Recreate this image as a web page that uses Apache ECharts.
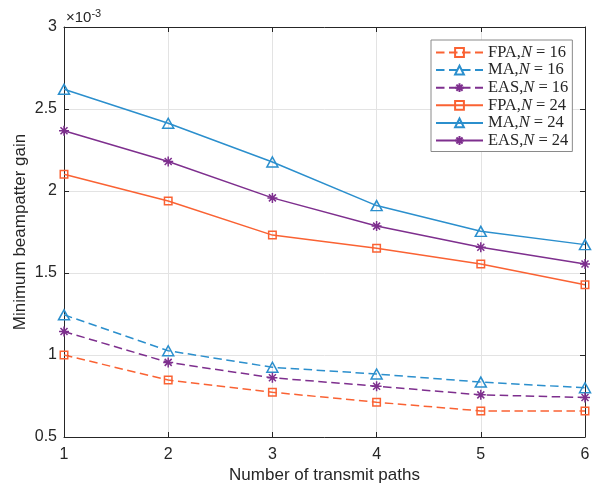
<!DOCTYPE html>
<html>
<head>
<meta charset="utf-8">
<script src="https://cdn.jsdelivr.net/npm/echarts@6/dist/echarts.min.js"></script>
<style>html,body{margin:0;padding:0;background:#fff;}#c{width:592px;height:487px;}</style>
</head>
<body>
<div id="c"></div>
<script>
const paths = [1, 2, 3, 4, 5, 6];
const yTicks = [0.5, 1, 1.5, 2, 2.5, 3];
// values in units of 1e-3
const fpa16 = [1.00, 0.847, 0.773, 0.712, 0.659, 0.659];
const ma16  = [1.245, 1.026, 0.925, 0.884, 0.835, 0.800];
const eas16 = [1.143, 0.955, 0.861, 0.810, 0.757, 0.741];
const fpa24 = [2.102, 1.939, 1.731, 1.651, 1.555, 1.429];
const ma24  = [2.620, 2.413, 2.177, 1.911, 1.754, 1.673];
const eas24 = [2.367, 2.180, 1.958, 1.786, 1.657, 1.555];

const ORANGE = '#FA6233', BLUE = '#2B8FCD', PURPLE = '#7E2F8E';
const AST = 'path://M0,-10L0,10M-10,0L10,0M-7,-7L7,7M-7,7L7,-7';
const DASH = [8.5, 4.5];

function mk(name, vals, color, dashed, kind) {
  let symbol = 'rect', size = 7.5;
  if (kind === 'tri') { symbol = 'triangle'; size = [11, 10]; }
  if (kind === 'ast') { symbol = AST; size = 10; }
  return {
    name: name, type: 'line',
    data: paths.map((p, i) => [p, vals[i]]),
    symbol: symbol, symbolSize: size, showSymbol: true,
    lineStyle: { color: color, width: 1.5, type: dashed ? DASH : 'solid' },
    itemStyle: { color: kind === 'ast' ? color : 'rgba(255,255,255,0)', borderColor: color, borderWidth: 1.5 },
    emphasis: { disabled: true },
    animation: false, z: 3
  };
}

const names = ['FPA16', 'MA16', 'EAS16', 'FPA24', 'MA24', 'EAS24'];
const labels = {
  FPA16: ['FPA', '16'], MA16: ['MA', '16'], EAS16: ['EAS', '16'],
  FPA24: ['FPA', '24'], MA24: ['MA', '24'], EAS24: ['EAS', '24']
};

const chart = echarts.init(document.getElementById('c'), null, { renderer: 'canvas' });
const axisCol = '#262626';
const tickFont = 16, nameFont = 17;
chart.setOption({
  animation: false,
  backgroundColor: '#fff',
  grid: { left: 64, right: 7, top: 27, bottom: 50, containLabel: false, outerBoundsMode: 'none' },
  xAxis: [{
    type: 'value', min: 1, max: 6, interval: 1,
    name: 'Number of transmit paths', nameLocation: 'middle', nameGap: 30, nameMoveOverlap: false,
    nameTextStyle: { fontFamily: 'Liberation Sans', fontSize: nameFont, color: axisCol },
    axisLine: { show: true, lineStyle: { color: axisCol, width: 1 } },
    axisTick: { show: true, inside: true, length: 5, lineStyle: { color: axisCol } },
    axisLabel: { fontFamily: 'Liberation Sans', fontSize: tickFont, color: axisCol, margin: 10 },
    splitLine: { show: true, lineStyle: { color: '#e3e3e3', width: 1 } }
  }, {
    type: 'value', min: 1, max: 6, interval: 1, position: 'top',
    axisLine: { show: true, onZero: false, lineStyle: { color: axisCol, width: 1 } },
    axisTick: { show: true, inside: true, length: 5, lineStyle: { color: axisCol } },
    axisLabel: { show: false }, splitLine: { show: false }
  }],
  yAxis: [{
    type: 'value', min: 0.5, max: 3, interval: 0.5,
    name: 'Minimum beampatter gain', nameLocation: 'middle', nameGap: 35, nameMoveOverlap: false,
    nameTextStyle: { fontFamily: 'Liberation Sans', fontSize: nameFont, color: axisCol },
    axisLine: { show: true, lineStyle: { color: axisCol, width: 1 } },
    axisTick: { show: true, inside: true, length: 5, lineStyle: { color: axisCol } },
    axisLabel: { fontFamily: 'Liberation Sans', fontSize: tickFont, color: axisCol, margin: 7,
      formatter: v => String(Math.round(v * 10) / 10) },
    splitLine: { show: true, lineStyle: { color: '#e3e3e3', width: 1 } }
  }, {
    type: 'value', min: 0.5, max: 3, interval: 0.5, position: 'right',
    axisLine: { show: true, onZero: false, lineStyle: { color: axisCol, width: 1 } },
    axisTick: { show: true, inside: true, length: 5, lineStyle: { color: axisCol } },
    axisLabel: { show: false }, splitLine: { show: false }
  }],
  legend: {
    orient: 'vertical', left: 431, top: 40,
    padding: [4, 4, 2.5, 4], itemGap: 0.6, itemWidth: 47, itemHeight: 11,
    backgroundColor: '#fff', borderColor: '#8a8a8a', borderWidth: 1, borderRadius: 0,
    data: names,
    formatter: n => '{a|' + labels[n][0] + ',}{i|N}{a| = ' + labels[n][1] + '}',
    textStyle: {
      color: axisCol, fontSize: 16.5, fontFamily: 'Liberation Serif',
      rich: {
        a: { fontFamily: 'Liberation Serif', fontSize: 16.5, color: axisCol },
        i: { fontFamily: 'Liberation Serif', fontStyle: 'italic', fontSize: 16.5, color: axisCol }
      }
    }
  },
  graphic: [{
    type: 'text', left: 66, top: 8,
    style: {
      text: '{a|×10}{s|-3}',
      rich: {
        a: { fontFamily: 'Liberation Sans', fontSize: 15, fill: axisCol },
        s: { fontFamily: 'Liberation Sans', fontSize: 11, fill: axisCol, verticalAlign: 'top', padding: [0, 0, 8, 0] }
      }
    }
  }],
  series: [
    mk('FPA16', fpa16, ORANGE, true, 'sq'),
    mk('MA16', ma16, BLUE, true, 'tri'),
    mk('EAS16', eas16, PURPLE, true, 'ast'),
    mk('FPA24', fpa24, ORANGE, false, 'sq'),
    mk('MA24', ma24, BLUE, false, 'tri'),
    mk('EAS24', eas24, PURPLE, false, 'ast')
  ]
});
</script>
</body>
</html>
